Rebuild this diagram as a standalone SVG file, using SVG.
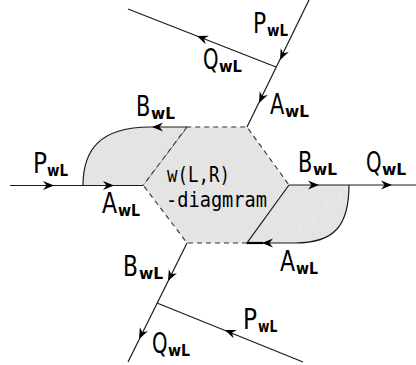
<svg xmlns="http://www.w3.org/2000/svg" width="416" height="365" viewBox="0 0 416 365">
<style>
.ln{fill:none;stroke:#1a1a1a;stroke-width:1.2}
.dash{fill:none;stroke:#333;stroke-width:1.1;stroke-dasharray:5 4}
.blob{fill:#e4e4e4;stroke:none}
.ah{fill:#000}
.lab{font-family:"DejaVu Sans","Liberation Sans",sans-serif;font-size:29px;fill:#000}
.sub{font-family:"DejaVu Sans","Liberation Sans",sans-serif;font-size:15.5px;font-weight:bold;fill:#000}
.hx{font-family:"DejaVu Sans Mono","Liberation Mono",monospace;font-size:21px;fill:#000}
</style>
<defs>
<path id="arr" d="M0,0 L-11,-4.5 L-7.5,0 L-11,4.5 Z"/>
</defs>
<g id="hexagon">
<path class="blob" d="M187,127 L247,127 L289,185 L247,243 L187,243 L143,185 Z"/>
<path class="dash" d="M143,185 L187,127 L247,127 L289,185"/>
<path class="dash" d="M247,243 L187,243 L143,185"/>
<text class="hx" x="167" y="182" textLength="63" lengthAdjust="spacingAndGlyphs">w(L,R)</text>
<text class="hx" x="166" y="207" textLength="101" lengthAdjust="spacingAndGlyphs">-diagmram</text>
</g>
<g id="left-blob">
<path class="blob" d="M83,185.5 C83,150 100,127 150,127 L187,127 L143,185.5 Z"/>
<path class="dash" d="M187,127 L143,185.5"/>
<path class="ln" d="M83,185.5 C83,150 100,127 150,127 L187,127"/>
</g>
<g id="right-blob">
<path class="blob" d="M289,185 L349,185 C349,225 335,243 295,243 L247,243 Z"/>
<path d="M348,186 L292,238" stroke="#fff" stroke-width="1" stroke-dasharray="5 4" fill="none" opacity="0.6"/>
<path class="ln" d="M349,185 C349,225 335,243 295,243 L247,243 L289,185"/>
<path d="M247,243 L263,243" stroke="#000" stroke-width="2.2"/>
</g>
<g id="connectors">
<path class="ln" d="M10,185.5 L143,185.5"/>
<path class="ln" d="M289,185 L416,185"/>
<path class="ln" d="M309,0 L247,127"/>
<path class="ln" d="M128,9 L276,67"/>
<path class="ln" d="M187,243 L128,362"/>
<path class="ln" d="M157,303 L303,362"/>
<use href="#arr" class="ah" transform="translate(54,185.5)"/>
<use href="#arr" class="ah" transform="translate(114,185.5)"/>
<use href="#arr" class="ah" transform="translate(152,127) rotate(180)"/>
<use href="#arr" class="ah" transform="translate(319,185)"/>
<use href="#arr" class="ah" transform="translate(392,185)"/>
<use href="#arr" class="ah" transform="translate(262,243) rotate(180)"/>
<use href="#arr" class="ah" transform="translate(280,60) rotate(115.7)"/>
<use href="#arr" class="ah" transform="translate(259,103) rotate(115.7)"/>
<use href="#arr" class="ah" transform="translate(197,36) rotate(201.4)"/>
<use href="#arr" class="ah" transform="translate(168,281) rotate(116.4)"/>
<use href="#arr" class="ah" transform="translate(139,339) rotate(116.4)"/>
<use href="#arr" class="ah" transform="translate(225,330) rotate(202)"/>
</g>
<g id="labels">
<text class="lab" transform="translate(33,173) scale(0.8,1)">P</text><text class="sub" transform="translate(47,176) scale(0.87,1)">wL</text>
<text class="lab" transform="translate(102,213) scale(0.76,1)">A</text><text class="sub" transform="translate(118,216) scale(0.91,1)">wL</text>
<text class="lab" transform="translate(136,116) scale(0.72,1)">B</text><text class="sub" transform="translate(151,119) scale(0.99,1)">wL</text>
<text class="lab" transform="translate(270,114) scale(0.72,1)">A</text><text class="sub" transform="translate(285,117) scale(0.99,1)">wL</text>
<text class="lab" transform="translate(253,33) scale(0.75,1)">P</text><text class="sub" transform="translate(267,36) scale(0.87,1)">wL</text>
<text class="lab" transform="translate(203,69) scale(0.68,1)">Q</text><text class="sub" transform="translate(219,72) scale(0.95,1)">wL</text>
<text class="lab" transform="translate(298,172) scale(0.72,1)">B</text><text class="sub" transform="translate(313,175) scale(0.99,1)">wL</text>
<text class="lab" transform="translate(366,172) scale(0.68,1)">Q</text><text class="sub" transform="translate(382,175) scale(1,1)">wL</text>
<text class="lab" transform="translate(280,271) scale(0.76,1)">A</text><text class="sub" transform="translate(296,274) scale(0.91,1)">wL</text>
<text class="lab" transform="translate(123,276) scale(0.75,1)">B</text><text class="sub" transform="translate(139,279) scale(1,1)">wL</text>
<text class="lab" transform="translate(243,329) scale(0.8,1)">P</text><text class="sub" transform="translate(258,332) scale(0.8,1)">wL</text>
<text class="lab" transform="translate(152,353) scale(0.68,1)">Q</text><text class="sub" transform="translate(168,356) scale(0.91,1)">wL</text>
</g>
</svg>
